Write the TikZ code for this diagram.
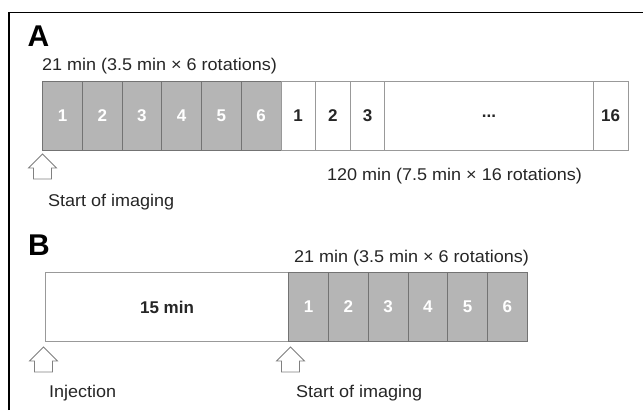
\documentclass[tikz,border=0pt]{standalone}
\usepackage{fontspec}
\setmainfont{Liberation Sans}
\newfontfamily\lblfont[FakeStretch=1.06]{Liberation Sans}
\begin{document}
\begin{tikzpicture}[x=1pt,y=-1pt,
  every node/.style={inner sep=0pt, outer sep=0pt},
  lbl/.style={font=\lblfont\fontsize{17}{19}\selectfont, text=black!85},
  panel/.style={font=\fontsize{30}{32}\selectfont\bfseries},
  graycell/.style={draw=black!55, fill=black!29, line width=0.8pt, minimum height=69.5pt,
     text=white, font=\fontsize{17}{19}\selectfont\bfseries},
  whitecell/.style={draw=black!40, fill=white, line width=0.8pt, minimum height=69.5pt,
     text=black!85, font=\fontsize{17}{19}\selectfont\bfseries},
  arrowline/.style={draw=black!50, line width=0.8pt, fill=white},
  uparrow/.pic={\path[arrowline] (0,0) -- (14,14) -- (9,14) -- (9,25) -- (-9,25) -- (-9,14) -- (-14,14) -- cycle;}
]
\useasboundingbox (0,0) rectangle (643,410);
\fill[white] (0,0) rectangle (643,410);
\draw[line width=1.5pt] (9,410) -- (9,12.5) -- (643,12.5);

% Panel A
\node[panel, anchor=base west] (labA) at (27.5,46.7) {A};
\node[lbl, anchor=base west] (a21) at (42,70) {21 min (3.5 min × 6 rotations)};
\foreach \i in {1,...,6} {
  \node[graycell, minimum width=39.7pt] (ag\i) at ({42.7+39.7*(\i-0.5)},115.9) {\i};
}
\node[whitecell, minimum width=34.6pt] (aw1) at (298.2,115.9) {1};
\node[whitecell, minimum width=34.6pt] (aw2) at (332.8,115.9) {2};
\node[whitecell, minimum width=34.0pt] (aw3) at (367.7,115.9) {3};
\node[whitecell, minimum width=208.6pt] (awd) at (489.0,115.9) {...};
\node[whitecell, minimum width=34.7pt] (aw16) at (610.65,115.9) {16};
\pic at (42.5,154) {uparrow};
\node[lbl, anchor=base] (a120) at (454.5,180.7) {120 min (7.5 min × 16 rotations)};
\node[lbl, anchor=base west] (astart) at (48,206) {Start of imaging};

% Panel B
\node[panel, anchor=base west] (labB) at (28,255) {B};
\node[lbl, anchor=base west] (b21) at (294,262) {21 min (3.5 min × 6 rotations)};
\node[whitecell, minimum width=243.4pt] (b15) at (167,307) {15 min};
\foreach \i in {1,...,6} {
  \node[graycell, minimum width=39.77pt] (bg\i) at ({288.7+39.77*(\i-0.5)},307) {\i};
}
\pic at (43.5,347) {uparrow};
\pic at (290.5,347) {uparrow};
\node[lbl, anchor=base west] (binj) at (49,397) {Injection};
\node[lbl, anchor=base west] (bstart) at (296,397) {Start of imaging};
\end{tikzpicture}
\end{document}
